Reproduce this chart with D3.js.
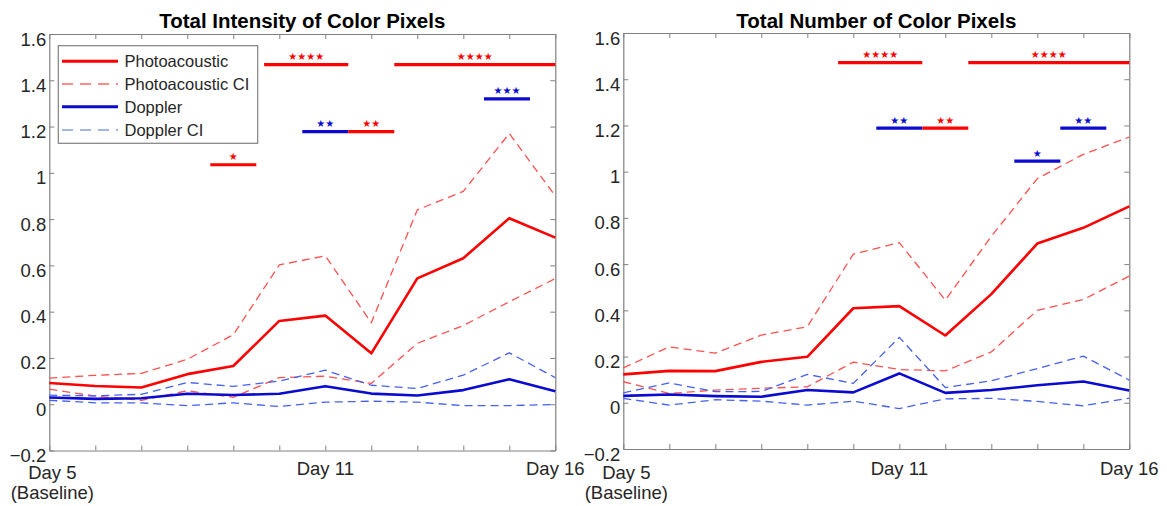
<!DOCTYPE html>
<html>
<head>
<meta charset="utf-8">
<script src="https://cdn.jsdelivr.net/npm/d3@7"></script>
<style>
  html, body { margin: 0; padding: 0; background: #fff; }
  svg { display: block; }
  text { font-family: Arial, "Liberation Sans", Helvetica, sans-serif; }
</style>
</head>
<body>
<svg id="chart" width="1167" height="506"></svg>
<script>
// ---------- data ----------
const days = [5, 6, 7, 8, 9, 10, 11, 12, 13, 14, 15, 16];
const yTicks = [-0.2, 0, 0.2, 0.4, 0.6, 0.8, 1, 1.2, 1.4, 1.6];
const xTickLabels = [
  { i: 0, lines: ["Day 5", "(Baseline)"] },
  { i: 6, lines: ["Day 11"] },
  { i: 11, lines: ["Day 16"] }
];
const titles = ["Total Intensity of Color Pixels", "Total Number of Color Pixels"];
const legendLabels = ["Photoacoustic", "Photoacoustic CI", "Doppler", "Doppler CI"];

// Panel 1: Total Intensity
const intensityPA      = [0.092, 0.079, 0.072, 0.130, 0.165, 0.360, 0.383, 0.220, 0.544, 0.631, 0.804, 0.720];
const intensityPAHigh  = [0.113, 0.125, 0.133, 0.194, 0.300, 0.602, 0.641, 0.352, 0.840, 0.920, 1.170, 0.900];
const intensityPALow   = [0.065, 0.035, 0.017, 0.058, 0.030, 0.115, 0.121, 0.090, 0.263, 0.340, 0.443, 0.543];
const intensityDop     = [0.029, 0.023, 0.026, 0.045, 0.040, 0.045, 0.078, 0.046, 0.038, 0.061, 0.108, 0.056];
const intensityDopHigh = [0.039, 0.036, 0.043, 0.094, 0.077, 0.100, 0.147, 0.082, 0.068, 0.126, 0.222, 0.115];
const intensityDopLow  = [0.017, 0.006, 0.006, -0.006, 0.006, -0.010, 0.009, 0.013, 0.009, -0.006, -0.006, -0.001];

// Panel 2: Total Number
const numberPA      = [0.123, 0.138, 0.137, 0.177, 0.199, 0.409, 0.418, 0.291, 0.470, 0.689, 0.757, 0.850];
const numberPAHigh  = [0.151, 0.242, 0.215, 0.293, 0.329, 0.643, 0.693, 0.444, 0.720, 0.970, 1.075, 1.150];
const numberPALow   = [0.091, 0.040, 0.055, 0.063, 0.069, 0.176, 0.144, 0.138, 0.220, 0.400, 0.447, 0.548];
const numberDop     = [0.030, 0.036, 0.029, 0.026, 0.055, 0.045, 0.127, 0.043, 0.055, 0.076, 0.092, 0.053];
const numberDopHigh = [0.043, 0.086, 0.048, 0.049, 0.123, 0.084, 0.283, 0.066, 0.095, 0.148, 0.202, 0.098];
const numberDopLow  = [0.019, -0.010, 0.013, 0.007, -0.010, 0.007, -0.025, 0.017, 0.019, 0.006, -0.013, 0.020];

// Significance bars: [startIndex, endIndex, value, stars, kind]
const intensitySig = [
  [3.5, 4.5, 1.035, "★", "pa"],
  [4.67, 6.5, 1.468, "★★★★", "pa"],
  [7.5, 11, 1.468, "★★★★", "pa"],
  [5.5, 6.5, 1.178, "★★", "dop"],
  [6.5, 7.5, 1.178, "★★", "pa"],
  [9.45, 10.45, 1.32, "★★★", "dop"]
];
const numberSig = [
  [4.67, 6.5, 1.472, "★★★★", "pa"],
  [7.5, 11, 1.472, "★★★★", "pa"],
  [5.5, 6.5, 1.188, "★★", "dop"],
  [6.5, 7.5, 1.188, "★★", "pa"],
  [8.5, 9.5, 1.046, "★", "dop"],
  [9.5, 10.5, 1.188, "★★", "dop"]
];

// ---------- styles ----------
const C = {
  pa: "#ff0000", paCI: "#ff5050", dop: "#0a0ad0", dopCI: "#4660f0",
  paCILegend: "#ff8a8a", dopCILegend: "#a2b6e8",
  axis: "#808080", text: "#262626"
};

const svg = d3.select("#chart");

const panels = [
  { title: titles[0], titleW: 286, x0: 49.3, x1: 555.3, y0: 34, y1: 450.5,
    series: [
      { v: intensityPAHigh, c: C.paCI, w: 1.3, dash: "8,5" },
      { v: intensityPALow,  c: C.paCI, w: 1.3, dash: "8,5" },
      { v: intensityDopHigh, c: C.dopCI, w: 1.3, dash: "8,5" },
      { v: intensityDopLow,  c: C.dopCI, w: 1.3, dash: "8,5" },
      { v: intensityPA, c: C.pa, w: 2.6, dash: null },
      { v: intensityDop, c: C.dop, w: 2.6, dash: null }
    ], sig: intensitySig, legend: true },
  { title: titles[1], titleW: 280, x0: 623.3, x1: 1129.3, y0: 33, y1: 449,
    series: [
      { v: numberPAHigh, c: C.paCI, w: 1.3, dash: "8,5" },
      { v: numberPALow,  c: C.paCI, w: 1.3, dash: "8,5" },
      { v: numberDopHigh, c: C.dopCI, w: 1.3, dash: "8,5" },
      { v: numberDopLow,  c: C.dopCI, w: 1.3, dash: "8,5" },
      { v: numberPA, c: C.pa, w: 2.6, dash: null },
      { v: numberDop, c: C.dop, w: 2.6, dash: null }
    ], sig: numberSig, legend: false }
];

panels.forEach(p => {
  const x = d3.scaleLinear().domain([0, days.length - 1]).range([p.x0, p.x1]);
  const y = d3.scaleLinear().domain([-0.2, 1.6]).range([p.y1, p.y0]);
  const g = svg.append("g");

  // axes (ticks inward on all four sides)
  const left = g.append("g").attr("transform", `translate(${p.x0},0)`)
    .call(d3.axisLeft(y).tickValues(yTicks).tickSizeInner(-5).tickSizeOuter(0).tickPadding(3)
      .tickFormat(d => d3.format("~g")(d)));
  left.selectAll("text").attr("dy", null).attr("y", 11)
    .attr("font-size", "18.5px").attr("fill", C.text).style("font-family", "Arial, 'Liberation Sans', sans-serif");
  const right = g.append("g").attr("transform", `translate(${p.x1},0)`)
    .call(d3.axisRight(y).tickValues(yTicks).tickSizeInner(-5).tickSizeOuter(0).tickFormat(""));
  const bottom = g.append("g").attr("transform", `translate(0,${p.y1})`)
    .call(d3.axisBottom(x).tickValues(d3.range(days.length)).tickSizeInner(-5).tickSizeOuter(0).tickFormat(""));
  const top = g.append("g").attr("transform", `translate(0,${p.y0})`)
    .call(d3.axisTop(x).tickValues(d3.range(days.length)).tickSizeInner(-5).tickSizeOuter(0).tickFormat(""));
  [left, right, bottom, top].forEach(a => {
    a.selectAll("line").attr("stroke", C.axis);
    a.select(".domain").attr("stroke", C.axis).attr("stroke-width", 1.2);
  });

  // x tick labels
  xTickLabels.forEach(t => {
    const cx = x(t.i) + (t.i === 0 ? 3 : 0);
    t.lines.forEach((ln, k) => {
      const base = t.lines.length > 1 ? (k === 0 ? 479 : 499) : 475;
      g.append("text").attr("x", cx).attr("y", base)
        .attr("text-anchor", "middle").attr("font-size", "18.5px").attr("fill", C.text).text(ln);
    });
  });

  // title
  g.append("text").attr("x", (p.x0 + p.x1) / 2).attr("y", 28)
    .attr("text-anchor", "middle").attr("font-size", "20px").attr("font-weight", "bold")
    .attr("textLength", p.titleW).attr("lengthAdjust", "spacingAndGlyphs")
    .attr("fill", "#000").text(p.title);

  // lines
  const line = d3.line().x((d, i) => x(i)).y(d => y(d));
  p.series.forEach(s => {
    g.append("path").datum(s.v).attr("d", line)
      .attr("fill", "none").attr("stroke", s.c).attr("stroke-width", s.w)
      .attr("stroke-dasharray", s.dash).attr("stroke-linejoin", "round");
  });

  // significance bars
  p.sig.forEach(([a, b, v, stars, kind]) => {
    const col = kind === "pa" ? C.pa : C.dop;
    g.append("line").attr("x1", x(a)).attr("x2", x(b)).attr("y1", y(v)).attr("y2", y(v))
      .attr("stroke", col).attr("stroke-width", 3.2);
    g.append("text").attr("x", (x(a) + x(b)) / 2).attr("y", y(v) - 4.5)
      .attr("text-anchor", "middle").attr("font-size", "10px").attr("fill", col)
      .style("font-family", "'DejaVu Sans', sans-serif").text(stars);
  });

  // legend
  if (p.legend) {
    const lg = g.append("g");
    lg.append("rect").attr("x", 58.3).attr("y", 45.7).attr("width", 199.4).attr("height", 97.6)
      .attr("fill", "#fff").attr("stroke", C.axis).attr("stroke-width", 1.2);
    const styles = [
      { c: C.pa, w: 3, dash: null },
      { c: C.paCILegend, w: 2, dash: "11,7" },
      { c: C.dop, w: 3, dash: null },
      { c: C.dopCILegend, w: 2, dash: "11,7" }
    ];
    const rowY = [61.3, 84, 106.7, 130];
    legendLabels.forEach((lab, k) => {
      lg.append("line").attr("x1", 62).attr("x2", 118).attr("y1", rowY[k]).attr("y2", rowY[k])
        .attr("stroke", styles[k].c).attr("stroke-width", styles[k].w).attr("stroke-dasharray", styles[k].dash);
      lg.append("text").attr("x", 124.5).attr("y", rowY[k] + 6)
        .attr("font-size", "16.5px").attr("fill", C.text).text(lab);
    });
  }
});
</script>
</body>
</html>
